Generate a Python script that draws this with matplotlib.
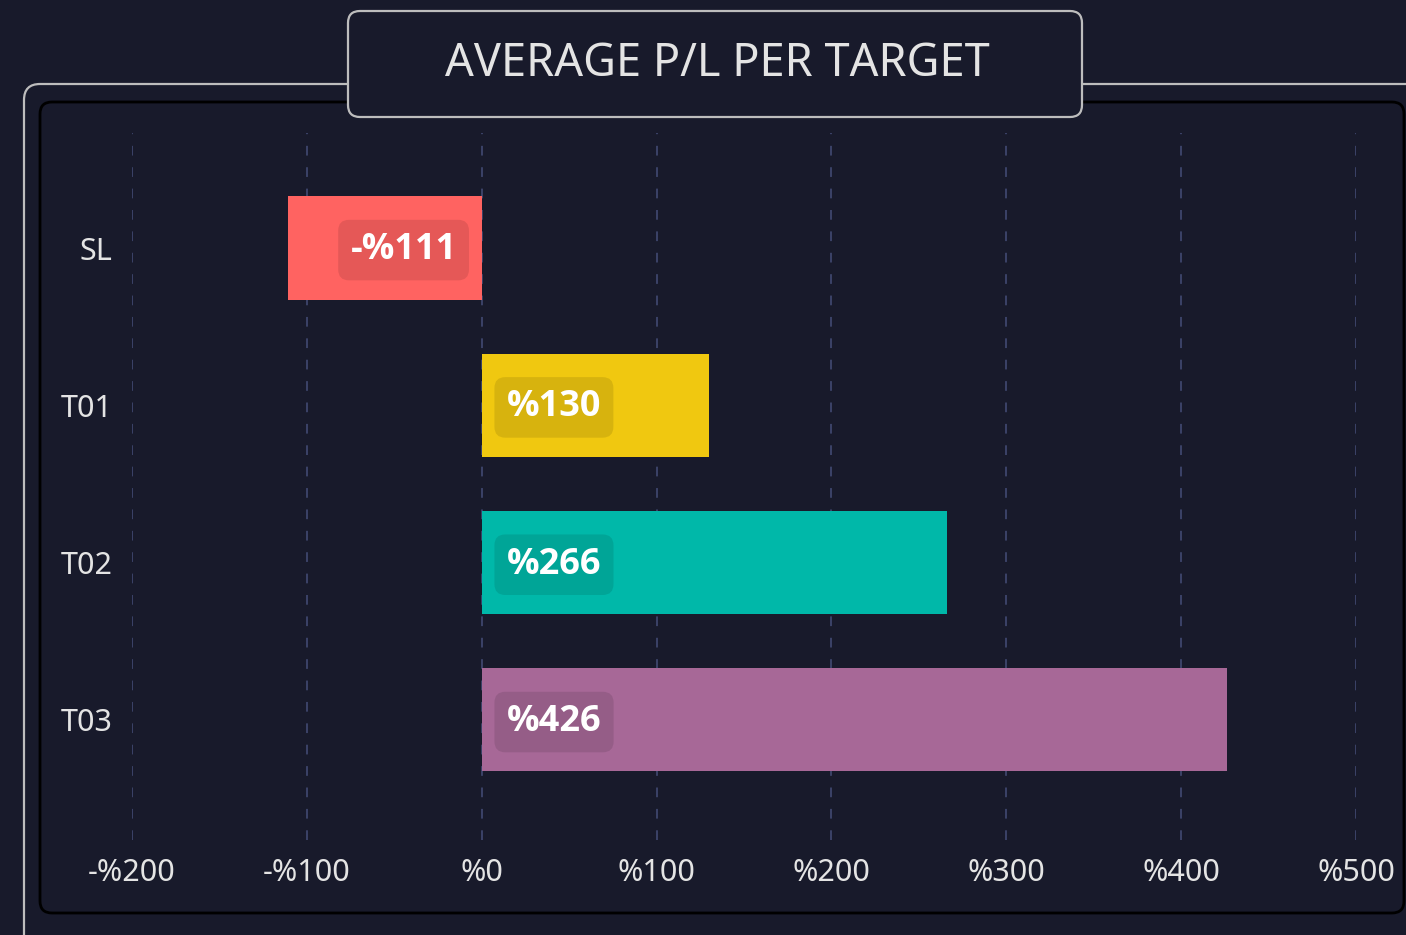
import matplotlib

matplotlib.use("Agg")
import matplotlib.pyplot as plt
from matplotlib.patches import FancyBboxPatch
from matplotlib.transforms import IdentityTransform

# data
targets = ["SL", "T01", "T02", "T03"]
avg_pl = [-111, 130, 266, 426]
bar_colors = ["#ff6361", "#f0c810", "#00b8a9", "#a76897"]
x_ticks = [-200, -100, 0, 100, 200, 300, 400, 500]

BG = "#181a2b"
FG = "#e4e4e4"
GRID = "#3b4368"
FRAME = "#bdbdbd"

W, H = 1406, 935
plt.rcParams["font.family"] = ["Noto Sans", "DejaVu Sans"]

fig = plt.figure(figsize=(W / 100, H / 100), dpi=100)
fig.patch.set_facecolor(BG)


def px_box(x0, y0, x1, y1, radius, **kw):
    """Rounded box in pixel coords, y measured from the top."""
    p = FancyBboxPatch(
        (x0, H - y1), x1 - x0, y1 - y0,
        boxstyle=f"round,pad=0,rounding_size={radius}",
        transform=IdentityTransform(), **kw,
    )
    fig.patches.append(p)
    return p


# outer frame, inner panel, title box
px_box(24, 84, 1430, 960, 16, facecolor=BG, edgecolor=FRAME, lw=1.6, zorder=0)
px_box(40, 102, 1404, 913, 12, facecolor=BG, edgecolor="#000000", lw=2.0, zorder=1)
px_box(348, 11, 1082, 117, 12, facecolor=BG, edgecolor=FRAME, lw=1.6, zorder=3)
fig.text(717 / W, 1 - 64 / H, "AVERAGE P/L PER TARGET", color=FG,
         fontsize=32.5, ha="center", va="center", zorder=4)

# axes: -200 at x=132, 500 at x=1356; gridlines from y=133 to y=840
ax = fig.add_axes([132 / W, 1 - 840 / H, (1356 - 132) / W, (840 - 133) / H])
ax.set_facecolor("none")
ax.set_zorder(2)
for s in ax.spines.values():
    s.set_visible(False)

ypos = range(len(targets))
ax.barh(ypos, avg_pl, height=0.655, color=bar_colors, zorder=2)
ax.set_xlim(x_ticks[0], x_ticks[-1])
ax.set_ylim(3.763, -0.731)

ax.set_xticks(x_ticks)
ax.set_xticklabels([f"-%{abs(v)}" if v < 0 else f"%{v}" for v in x_ticks])
ax.set_yticks(list(ypos))
ax.set_yticklabels(targets)
ax.tick_params(axis="both", length=0, colors=FG, labelsize=22)
ax.tick_params(axis="x", pad=13)
ax.tick_params(axis="y", pad=14)
ax.grid(axis="x", color=GRID, ls=(0, (5, 6)), lw=1.4, zorder=1)
ax.grid(axis="y", visible=False)

for y, v in zip(ypos, avg_pl):
    label = f"-%{abs(v)}" if v < 0 else f"%{v}"
    off = 18 if v >= 0 else -18
    ax.annotate(
        label, (0, y), xytext=(off, -1.5), textcoords="offset points",
        ha="left" if v >= 0 else "right", va="center",
        color="white", fontsize=26, fontweight="bold", zorder=4,
        family=["Open Sans", "DejaVu Sans"],
        bbox=dict(boxstyle="round,pad=0.34,rounding_size=0.3",
                  facecolor="black", alpha=0.1, edgecolor="none"),
    )

fig.savefig("out.png", dpi=100, facecolor=BG)
